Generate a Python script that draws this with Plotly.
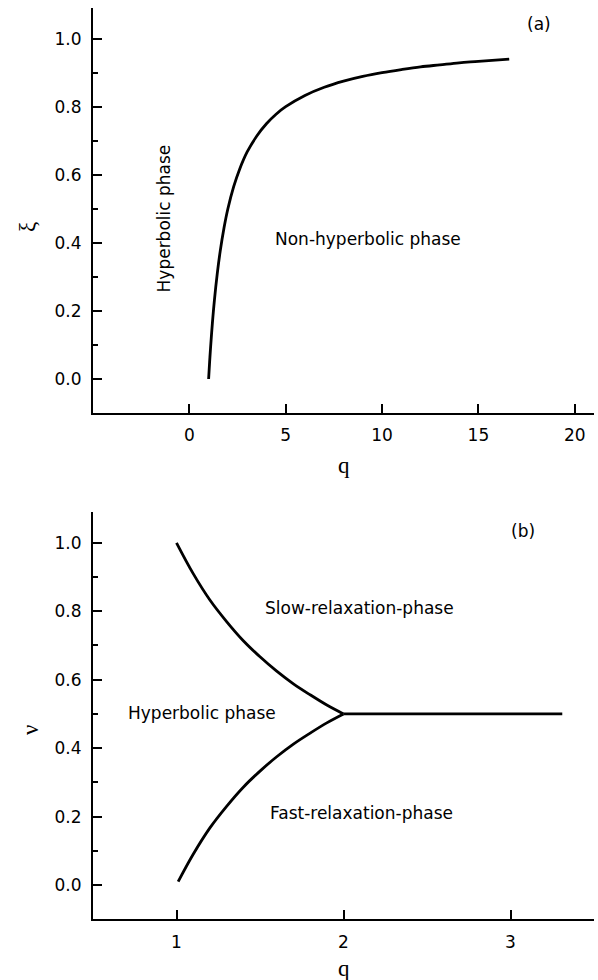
import plotly.graph_objects as go

# Panel (a): boundary between hyperbolic and non-hyperbolic phases
q_a = [1.0, 1.05, 1.1, 1.2, 1.3, 1.45, 1.6, 1.8, 2.0, 2.3, 2.6, 3.0, 3.5, 4.0,
       4.5, 5.0, 6.0, 7.0, 8.0, 9.0, 10.0, 11.0, 12.0, 13.0, 14.0, 15.0, 16.6]
xi_a = [0.0, 0.048, 0.091, 0.167, 0.231, 0.31, 0.375, 0.444, 0.5, 0.565, 0.615,
        0.667, 0.714, 0.75, 0.778, 0.8, 0.833, 0.857, 0.875, 0.889, 0.9, 0.909,
        0.917, 0.923, 0.929, 0.933, 0.94]

# Panel (b): upper branch, lower branch and horizontal line
q_b_up = [1.0, 1.1, 1.2, 1.3, 1.4, 1.5, 1.6, 1.7, 1.8, 1.9, 2.0]
nu_b_up = [1.0, 0.91, 0.833, 0.77, 0.714, 0.667, 0.625, 0.588, 0.556, 0.526, 0.5]
q_b_lo = [1.01, 1.1, 1.2, 1.3, 1.4, 1.5, 1.6, 1.7, 1.8, 1.9, 2.0]
nu_b_lo = [0.01, 0.09, 0.167, 0.23, 0.286, 0.333, 0.375, 0.412, 0.444, 0.474, 0.5]
q_b_h = [2.0, 3.31]
nu_b_h = [0.5, 0.5]

x_ticks_a = [0, 5, 10, 15, 20]
x_ticks_b = [1, 2, 3]
y_ticks = [0.0, 0.2, 0.4, 0.6, 0.8, 1.0]

SANS = "DejaVu Sans"
SERIF = "Liberation Serif"
line = dict(color="black", width=2.8)

fig = go.Figure()
fig.add_trace(go.Scatter(x=q_a, y=xi_a, mode="lines", line=dict(shape="spline", **line),
                         xaxis="x", yaxis="y", showlegend=False, hoverinfo="skip"))
fig.add_trace(go.Scatter(x=q_b_up, y=nu_b_up, mode="lines", line=dict(shape="spline", **line),
                         xaxis="x2", yaxis="y2", showlegend=False, hoverinfo="skip"))
fig.add_trace(go.Scatter(x=q_b_lo, y=nu_b_lo, mode="lines", line=dict(shape="spline", **line),
                         xaxis="x2", yaxis="y2", showlegend=False, hoverinfo="skip"))
fig.add_trace(go.Scatter(x=q_b_h, y=nu_b_h, mode="lines", line=line,
                         xaxis="x2", yaxis="y2", showlegend=False, hoverinfo="skip"))

W, H = 598, 980
xdom = [93 / W, 594 / W]
ydom_a = [1 - 413 / H, 1 - 8 / H]
ydom_b = [1 - 919.3 / H, 1 - 512 / H]

xcommon = dict(showline=True, linecolor="black", linewidth=2, ticks="inside", ticklen=9,
               tickwidth=2, tickcolor="black", showgrid=False, zeroline=False,
               tickfont=dict(family=SANS, size=17, color="black"), ticklabelstandoff=6)
ycommon = dict(showline=True, linecolor="black", linewidth=2, ticks="inside", ticklen=9,
               tickwidth=2, tickcolor="black", showgrid=False, zeroline=False,
               tickfont=dict(family=SANS, size=17, color="black"),
               tickvals=y_ticks, tickformat=".1f", range=[-0.1, 1.09],
               minor=dict(dtick=0.1, tick0=0, ticks="inside", ticklen=5, tickwidth=1.5,
                          tickcolor="black", showgrid=False),
               ticklabelstandoff=6)

fig.update_layout(
    width=W, height=H,
    margin=dict(l=0, r=0, t=0, b=0),
    paper_bgcolor="white", plot_bgcolor="white",
    xaxis=dict(domain=xdom, anchor="y", range=[-5, 21], tickvals=x_ticks_a, **xcommon),
    yaxis=dict(domain=ydom_a, anchor="x", **ycommon),
    xaxis2=dict(domain=xdom, anchor="y2", range=[0.5, 3.5], tickvals=x_ticks_b, **xcommon),
    yaxis2=dict(domain=ydom_b, anchor="x2", **ycommon),
)

tf = dict(family=SANS, size=17, color="black")
sf = dict(family=SERIF, size=23, color="black")
ann = [
    dict(x=-1.3, y=0.4725, xref="x", yref="y", text="Hyperbolic phase", textangle=-90, font=tf),
    dict(x=9.29, y=0.412, xref="x", yref="y", text="Non-hyperbolic phase", font=tf),
    dict(x=18.14, y=1.043, xref="x", yref="y", text="(a)", font=tf),
    dict(x=2.095, y=0.81, xref="x2", yref="y2", text="Slow-relaxation-phase", font=tf),
    dict(x=2.107, y=0.21, xref="x2", yref="y2", text="Fast-relaxation-phase", font=tf),
    dict(x=1.151, y=0.503, xref="x2", yref="y2", text="Hyperbolic phase", font=tf),
    dict(x=3.075, y=1.034, xref="x2", yref="y2", text="(b)", font=tf),
    dict(x=27 / W, y=1 - 227 / H, xref="paper", yref="paper", text="ξ", textangle=-90, font=sf),
    dict(x=30 / W, y=1 - 730 / H, xref="paper", yref="paper", text="ν", textangle=-90, font=sf),
    dict(x=344 / W, y=1 - 466 / H, xref="paper", yref="paper", text="q", font=sf),
    dict(x=344 / W, y=1 - 968 / H, xref="paper", yref="paper", text="q", font=sf),
]
for a in ann:
    a.update(showarrow=False, xanchor="center", yanchor="middle")
fig.update_layout(annotations=ann)

fig.write_html(
    "out.html",
    config={"displayModeBar": False},
    post_script="document.body.style.margin='0';document.body.style.overflow='hidden';",
)
